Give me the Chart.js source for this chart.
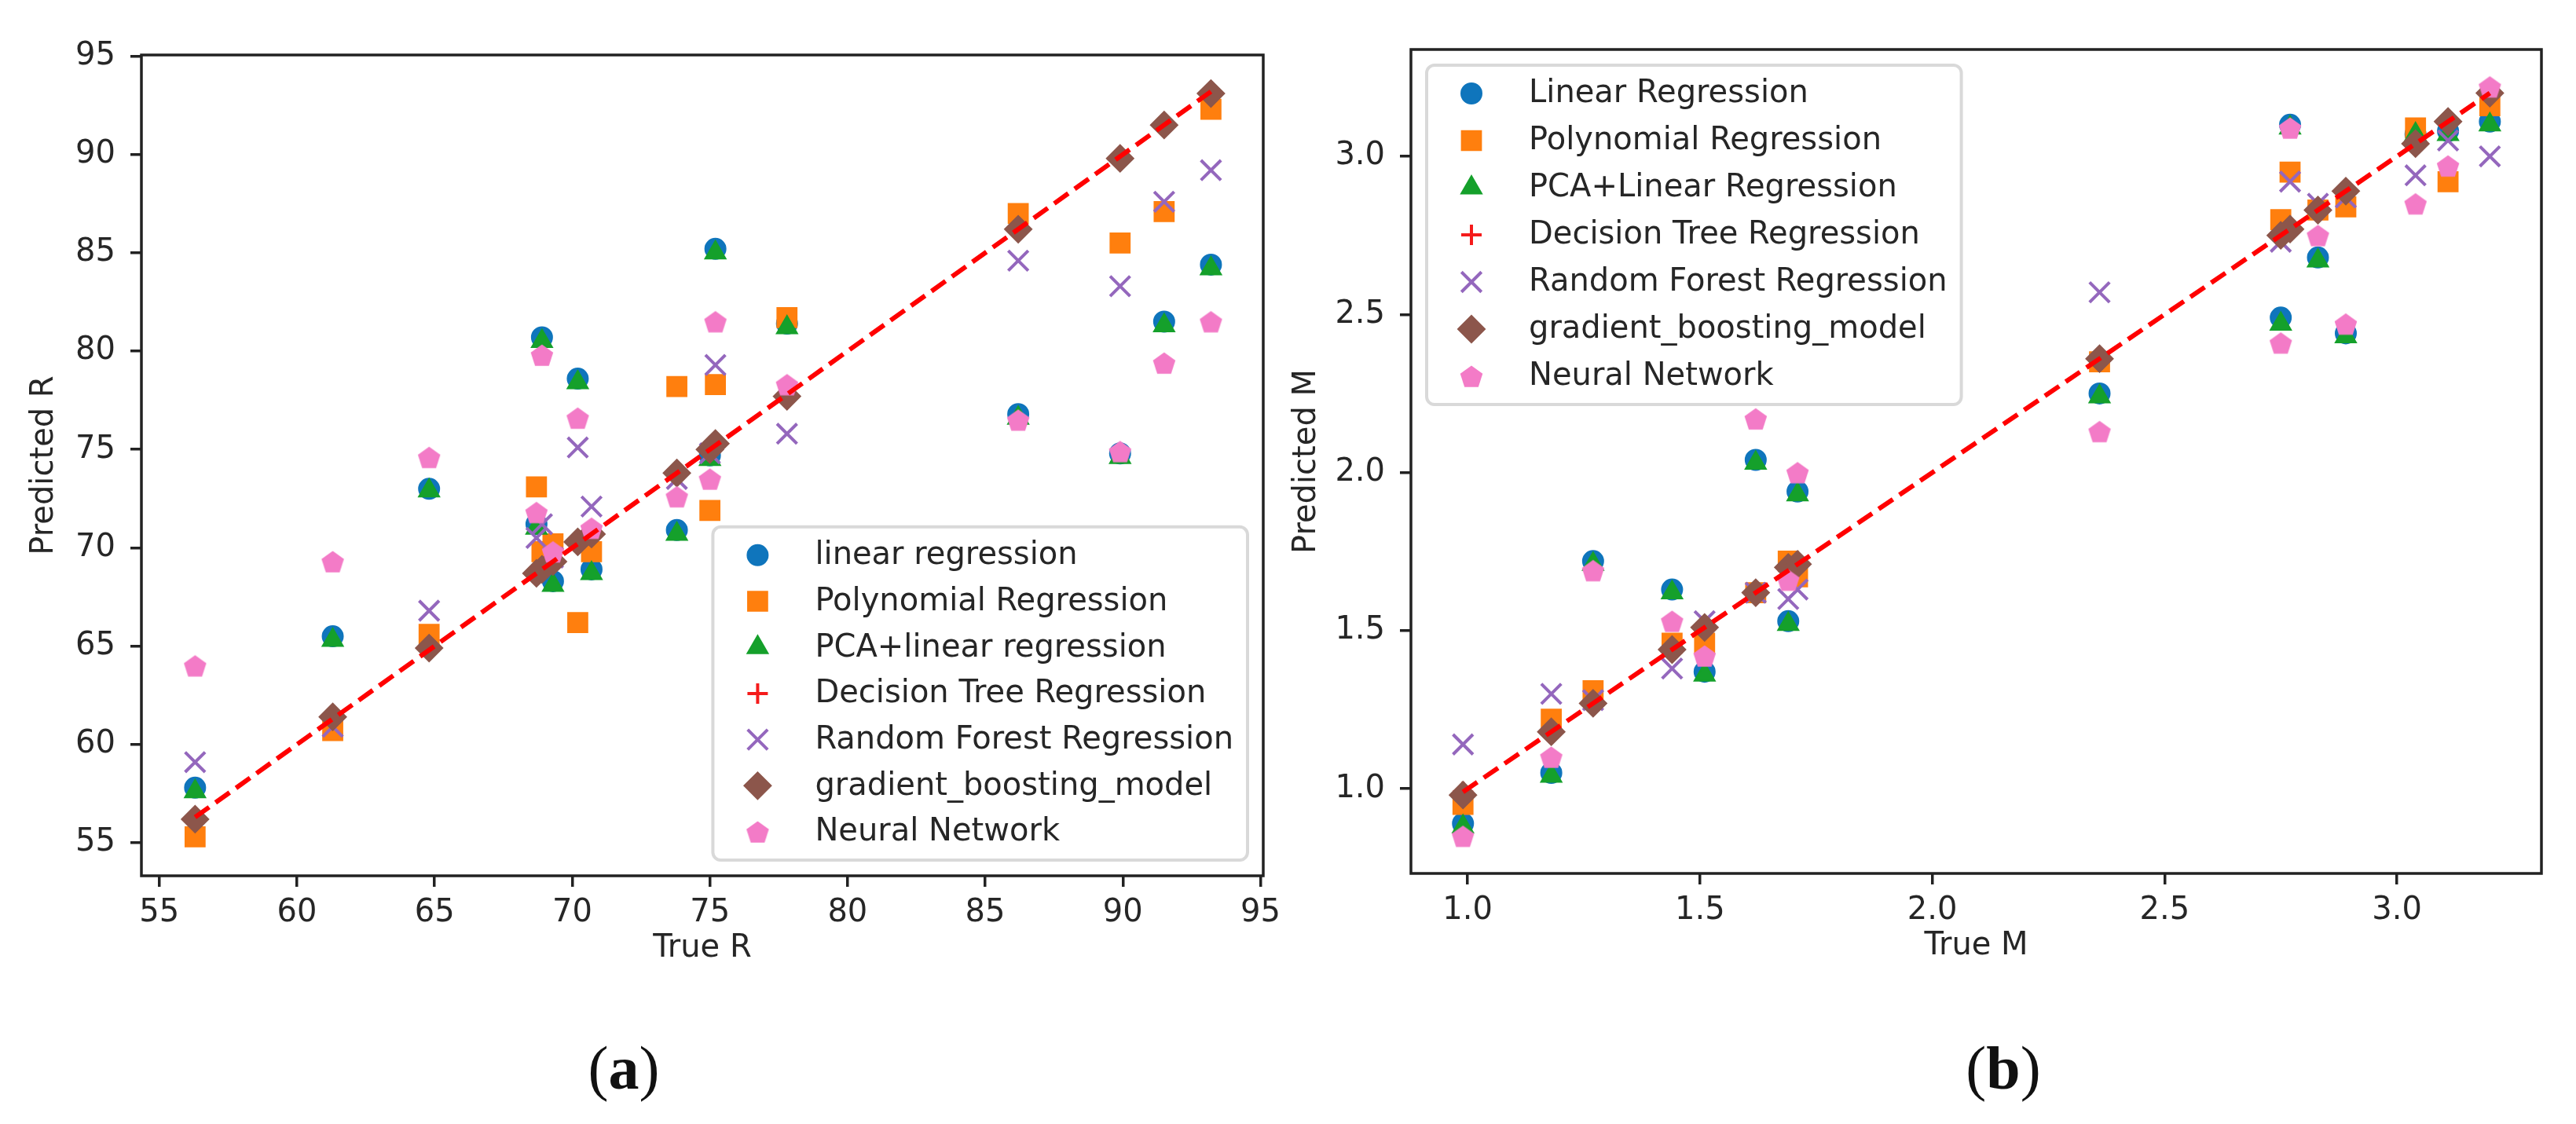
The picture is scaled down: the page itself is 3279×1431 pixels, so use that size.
<!DOCTYPE html>
<html>
<head>
<meta charset="utf-8">
<script src="https://cdn.jsdelivr.net/npm/chart.js@4.4.1/dist/chart.umd.min.js"></script>
<style>
  body { margin: 0; background: #fff; }
  #wrap { position: relative; width: 3279px; height: 1431px; }
  canvas { position: absolute; top: 0; }
  #chartR { left: 0; width: 1640px; height: 1431px; }
  #chartM { left: 1640px; width: 1639px; height: 1431px; }
  .cap { position: absolute; font-family: "Liberation Serif", serif; font-size: 78px;
         line-height: 1; transform: translate(-50%, -50%); color: #111; white-space: nowrap; }
</style>
</head>
<body>
<div id="wrap">
  <canvas id="chartR" width="1640" height="1431"></canvas>
  <canvas id="chartM" width="1639" height="1431"></canvas>
  <div class="cap" style="left:794px;top:1360px">(<b>a</b>)</div>
  <div class="cap" style="left:2550px;top:1360px">(<b>b</b>)</div>
</div>
<script>
// ---- panel (a): True R vs Predicted R ----
const labelsR = ["linear regression", "Polynomial Regression", "PCA+linear regression",
  "Decision Tree Regression", "Random Forest Regression", "gradient_boosting_model", "Neural Network"];
const trueR = [56.3, 61.3, 64.8, 68.7, 68.9, 69.3, 70.2, 70.7, 73.8, 75.0, 75.2, 77.8, 86.2, 89.9, 91.5, 93.2];
const linR  = [57.8, 65.5, 73.0, 71.2, 80.7, 68.3, 78.6, 68.9, 70.9, 74.7, 85.2, 81.4, 76.8, 74.8, 81.5, 84.4];
const polyR = [55.3, 60.7, 65.6, 73.1, 69.8, 70.2, 66.2, 69.8, 78.2, 71.9, 78.3, 81.7, 87.0, 85.5, 87.1, 92.3];
const pcaR  = [57.6, 65.3, 72.9, 71.0, 80.5, 68.1, 78.4, 68.7, 70.7, 74.5, 85.0, 81.2, 76.6, 74.6, 81.3, 84.2];
const dtR   = [56.3, 61.3, 64.8, 68.7, 68.9, 69.3, 70.2, 70.7, 73.8, 75.0, 75.2, 77.8, 86.2, 89.9, 91.5, 93.2];
const rfR   = [59.1, 60.9, 66.8, 70.5, 71.2, 69.5, 75.1, 72.1, 73.5, 74.8, 79.3, 75.8, 84.6, 83.3, 87.6, 89.2];
const gbR   = [56.2, 61.4, 64.9, 68.7, 68.9, 69.3, 70.3, 70.7, 73.8, 75.0, 75.3, 77.7, 86.2, 89.8, 91.5, 93.1];
const nnR   = [64.0, 69.3, 74.6, 71.8, 79.8, 69.8, 76.6, 71.0, 72.6, 73.5, 81.5, 78.3, 76.5, 74.9, 79.4, 81.5];
const ticksR = [55, 60, 65, 70, 75, 80, 85, 90, 95];

// ---- panel (b): True M vs Predicted M ----
const labelsM = ["Linear Regression", "Polynomial Regression", "PCA+Linear Regression",
  "Decision Tree Regression", "Random Forest Regression", "gradient_boosting_model", "Neural Network"];
const trueM = [0.99, 1.18, 1.27, 1.44, 1.51, 1.62, 1.69, 1.71, 2.36, 2.75, 2.77, 2.83, 2.89, 3.04, 3.11, 3.20];
const linM  = [0.89, 1.05, 1.72, 1.63, 1.37, 2.04, 1.53, 1.94, 2.25, 2.49, 3.10, 2.68, 2.44, 3.07, 3.08, 3.11];
const polyM = [0.95, 1.22, 1.31, 1.46, 1.46, 1.62, 1.72, 1.67, 2.35, 2.80, 2.95, 2.83, 2.84, 3.09, 2.92, 3.16];
const pcaM  = [0.88, 1.04, 1.71, 1.62, 1.36, 2.03, 1.52, 1.93, 2.24, 2.47, 3.09, 2.67, 2.43, 3.07, 3.07, 3.10];
const dtM   = [0.99, 1.18, 1.27, 1.44, 1.51, 1.62, 1.69, 1.71, 2.36, 2.75, 2.77, 2.83, 2.89, 3.04, 3.11, 3.20];
const rfM   = [1.14, 1.30, 1.28, 1.38, 1.53, 1.62, 1.60, 1.63, 2.57, 2.73, 2.92, 2.85, 2.87, 2.94, 3.05, 3.00];
const gbM   = [0.98, 1.18, 1.27, 1.44, 1.51, 1.62, 1.70, 1.71, 2.36, 2.75, 2.77, 2.83, 2.89, 3.04, 3.11, 3.20];
const nnM   = [0.85, 1.10, 1.69, 1.53, 1.42, 2.17, 1.66, 2.00, 2.13, 2.41, 3.09, 2.75, 2.47, 2.85, 2.97, 3.22];
const ticksM = [1.0, 1.5, 2.0, 2.5, 3.0];

const TEXT = "#262626";
Chart.defaults.font.family = "DejaVu Sans";
Chart.defaults.color = TEXT;

function pentagon(color, r) {
  const c = document.createElement("canvas");
  const s = Math.ceil(r * 2 + 2);
  c.width = s; c.height = s;
  const g = c.getContext("2d");
  g.beginPath();
  for (let i = 0; i < 5; i++) {
    const a = -Math.PI / 2 + i * 2 * Math.PI / 5;
    const px = s / 2 + r * Math.cos(a), py = s / 2 + r * Math.sin(a) + r * 0.1;
    if (i === 0) g.moveTo(px, py); else g.lineTo(px, py);
  }
  g.closePath();
  g.fillStyle = color;
  g.fill();
  return c;
}

const markers = [
  { style: "circle",    color: "#0f75bc", radius: 13,   bw: 2 },
  { style: "rect",      color: "#ff7f0e", radius: 17.5, bw: 2 },
  { style: "triangle",  color: "#15a02b", radius: 15,   bw: 2 },
  { style: "cross",     color: "#f51b1b", radius: 13,   bw: 4 },
  { style: "crossRot",  color: "#9467bd", radius: 18,   bw: 4 },
  { style: "rectRot",   color: "#8c564b", radius: 17,   bw: 2 },
  { style: pentagon("#f37bc7", 15), color: "#f37bc7", radius: 15, bw: 0 }
];

function pts(xs, ys) { return xs.map((x, i) => ({ x: x, y: ys[i] })); }

function buildDatasets(xs, series, labels) {
  const ds = series.map((ys, i) => ({
    label: labels[i],
    data: pts(xs, ys),
    pointStyle: markers[i].style,
    pointRadius: markers[i].radius,
    pointBorderWidth: markers[i].bw,
    borderWidth: markers[i].bw,
    backgroundColor: markers[i].color,
    borderColor: markers[i].color,
    order: series.length - i
  }));
  const lo = Math.min(...xs), hi = Math.max(...xs);
  ds.push({
    label: "ideal",
    data: [{ x: lo, y: lo }, { x: hi, y: hi }],
    showLine: true,
    borderColor: "#ff0000",
    borderWidth: 6,
    borderDash: [22, 10],
    pointRadius: 0,
    order: 0
  });
  return ds;
}

// frame round the plot area (all four spines)
const frame = {
  id: "frame",
  afterDatasetsDraw(chart) {
    const { ctx, chartArea: a } = chart;
    ctx.save();
    ctx.strokeStyle = "#222";
    ctx.lineWidth = 3.5;
    ctx.strokeRect(a.left, a.top, a.right - a.left, a.bottom - a.top);
    ctx.restore();
  }
};

// matplotlib style legend drawn inside the plot
const insideLegend = {
  id: "insideLegend",
  afterDraw(chart, args, opts) {
    const { ctx, chartArea: a } = chart;
    const items = chart.data.datasets.filter(d => !d.showLine);
    ctx.save();
    ctx.font = "40px 'DejaVu Sans'";
    const tw = Math.max(...items.map(d => ctx.measureText(d.label).width));
    const w = 130 + tw + 18, h = 36 * 2 + (items.length - 1) * opts.rowGap;
    const x0 = opts.corner === "br" ? a.right - opts.inset - w : a.left + opts.inset;
    const y0 = opts.corner === "br" ? a.bottom - opts.inset - h : a.top + opts.inset;
    ctx.beginPath();
    ctx.roundRect(x0, y0, w, h, 10);
    ctx.fillStyle = "rgba(255,255,255,0.8)";
    ctx.fill();
    ctx.strokeStyle = "#d9d9d9";
    ctx.lineWidth = 4;
    ctx.stroke();
    items.forEach((d, i) => {
      const cy = y0 + 36 + i * opts.rowGap, cx = x0 + 57;
      ctx.fillStyle = d.backgroundColor;
      ctx.strokeStyle = d.borderColor;
      ctx.lineWidth = d.pointBorderWidth;
      Chart.helpers.drawPoint(ctx, { pointStyle: d.pointStyle, radius: d.pointRadius,
        borderWidth: d.pointBorderWidth, rotation: 0 }, cx, cy);
      ctx.fillStyle = TEXT;
      ctx.textBaseline = "middle";
      ctx.textAlign = "left";
      ctx.fillText(d.label, x0 + 130, cy + 1);
    });
    ctx.restore();
  }
};

function axis(title, min, max, tickVals, size, horizontal, titlePad, digits) {
  return {
    type: "linear",
    min: min,
    max: max,
    afterBuildTicks: s => { s.ticks = tickVals.map(v => ({ value: v })); },
    afterFit: s => { if (horizontal) s.height = size; else s.width = size; },
    border: { display: false },
    grid: { display: true, drawOnChartArea: false, drawTicks: true, tickLength: 14,
            color: "#222", lineWidth: 3.5 },
    ticks: { font: { size: 40 }, color: TEXT, padding: horizontal ? 10 : 19,
             autoSkip: false, maxRotation: 0,
             callback: v => digits ? v.toFixed(digits) : String(v) },
    title: { display: true, text: title, font: { size: 40 }, color: TEXT, padding: titlePad }
  };
}

function makeChart(id, xs, series, labels, opt) {
  return new Chart(document.getElementById(id), {
    type: "scatter",
    data: { datasets: buildDatasets(xs, series, labels) },
    options: {
      responsive: false,
      animation: false,
      events: [],
      layout: { padding: opt.padding },
      plugins: { legend: { display: false }, tooltip: { enabled: false },
                 insideLegend: opt.legend },
      scales: {
        x: axis(opt.xTitle, opt.xMin, opt.xMax, opt.xTicks, 125, true, { top: 0, bottom: 8 }, opt.digits),
        y: axis(opt.yTitle, opt.yMin, opt.yMax, opt.yTicks, opt.yWidth, false, { top: opt.yTitlePad, bottom: 0 }, opt.digits)
      }
    },
    plugins: [frame, insideLegend]
  });
}

makeChart("chartR", trueR, [linR, polyR, pcaR, dtR, rfR, gbR, nnR], labelsR, {
  padding: { left: 0, top: 70, right: 25, bottom: 191 },
  xTitle: "True R", yTitle: "Predicted R",
  xMin: 54.35, xMax: 95.1, yMin: 53.32, yMax: 95.06,
  xTicks: ticksR, yTicks: ticksR, yWidth: 180, yTitlePad: 33, digits: 0,
  legend: { corner: "br", inset: 20, rowGap: 58.7 }
});

makeChart("chartM", trueM, [linM, polyM, pcaM, dtM, rfM, gbM, nnM], labelsM, {
  padding: { left: 0, top: 63, right: 44, bottom: 194 },
  xTitle: "True M", yTitle: "Predicted M",
  xMin: 0.878, xMax: 3.311, yMin: 0.732, yMax: 3.338,
  xTicks: ticksM, yTicks: ticksM, yWidth: 156, yTitlePad: 0, digits: 1,
  legend: { corner: "tl", inset: 20, rowGap: 60 }
});
</script>
</body>
</html>
